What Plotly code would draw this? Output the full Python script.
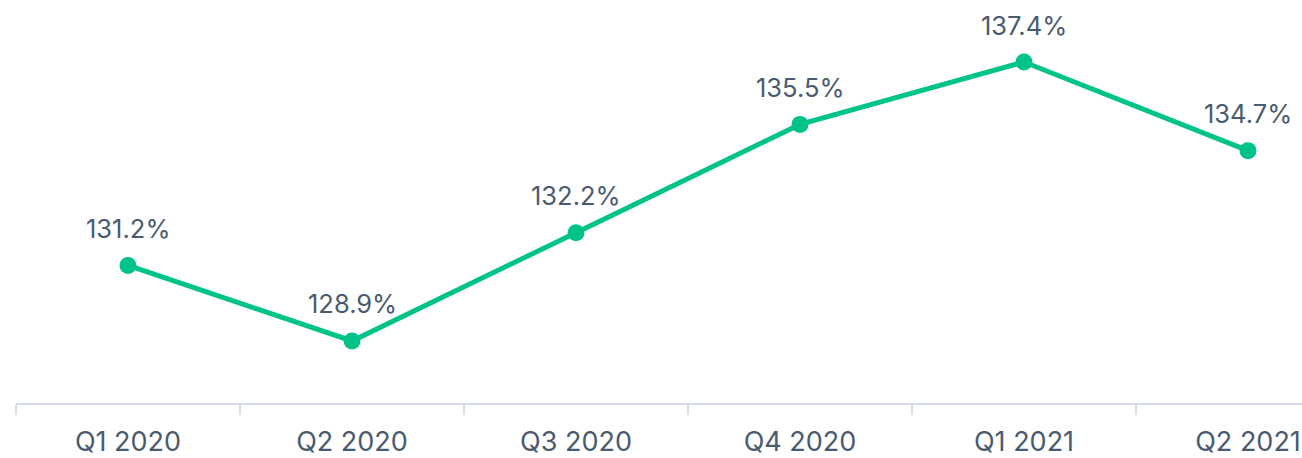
import plotly.graph_objects as go

quarters = ["Q1 2020", "Q2 2020", "Q3 2020", "Q4 2020", "Q1 2021", "Q2 2021"]
values = [131.2, 128.9, 132.2, 135.5, 137.4, 134.7]
labels = [f"{v:.1f}%" for v in values]

GREEN = "#00C389"
TEXT = "#4A5B70"
FONT = "Inter, sans-serif"

fig = go.Figure(go.Scatter(
    x=quarters, y=values, mode="lines+markers",
    line=dict(color=GREEN, width=5),
    marker=dict(color=GREEN, size=17),
    cliponaxis=False, hoverinfo="skip",
))

for q, v, t in zip(quarters, values, labels):
    fig.add_annotation(
        x=q, y=v, text=t, showarrow=False,
        xanchor="center", yanchor="middle", yshift=37,
        font=dict(family=FONT, size=25.5, color=TEXT),
    )

fig.update_layout(
    width=1302, height=458,
    margin=dict(l=16, r=0, t=0, b=55),
    paper_bgcolor="white", plot_bgcolor="white",
    showlegend=False,
    xaxis=dict(
        type="category", range=[-0.5, -0.5 + 1286 / 224], automargin=False,
        tickson="boundaries", ticks="outside", ticklen=10, tickwidth=2,
        tickcolor="#D5DCE6", showline=True, linecolor="#D5DCE6", linewidth=2,
        showgrid=False, ticklabelstandoff=14,
        tickfont=dict(family=FONT, size=27, color=TEXT),
    ),
    yaxis=dict(range=[127.01, 139.29], visible=False, showgrid=False,
               zeroline=False, automargin=False),
)

fig.write_html(
    "out.html",
    config={"displayModeBar": False},
    post_script="document.body.style.margin='0';document.body.style.overflow='hidden';",
)
